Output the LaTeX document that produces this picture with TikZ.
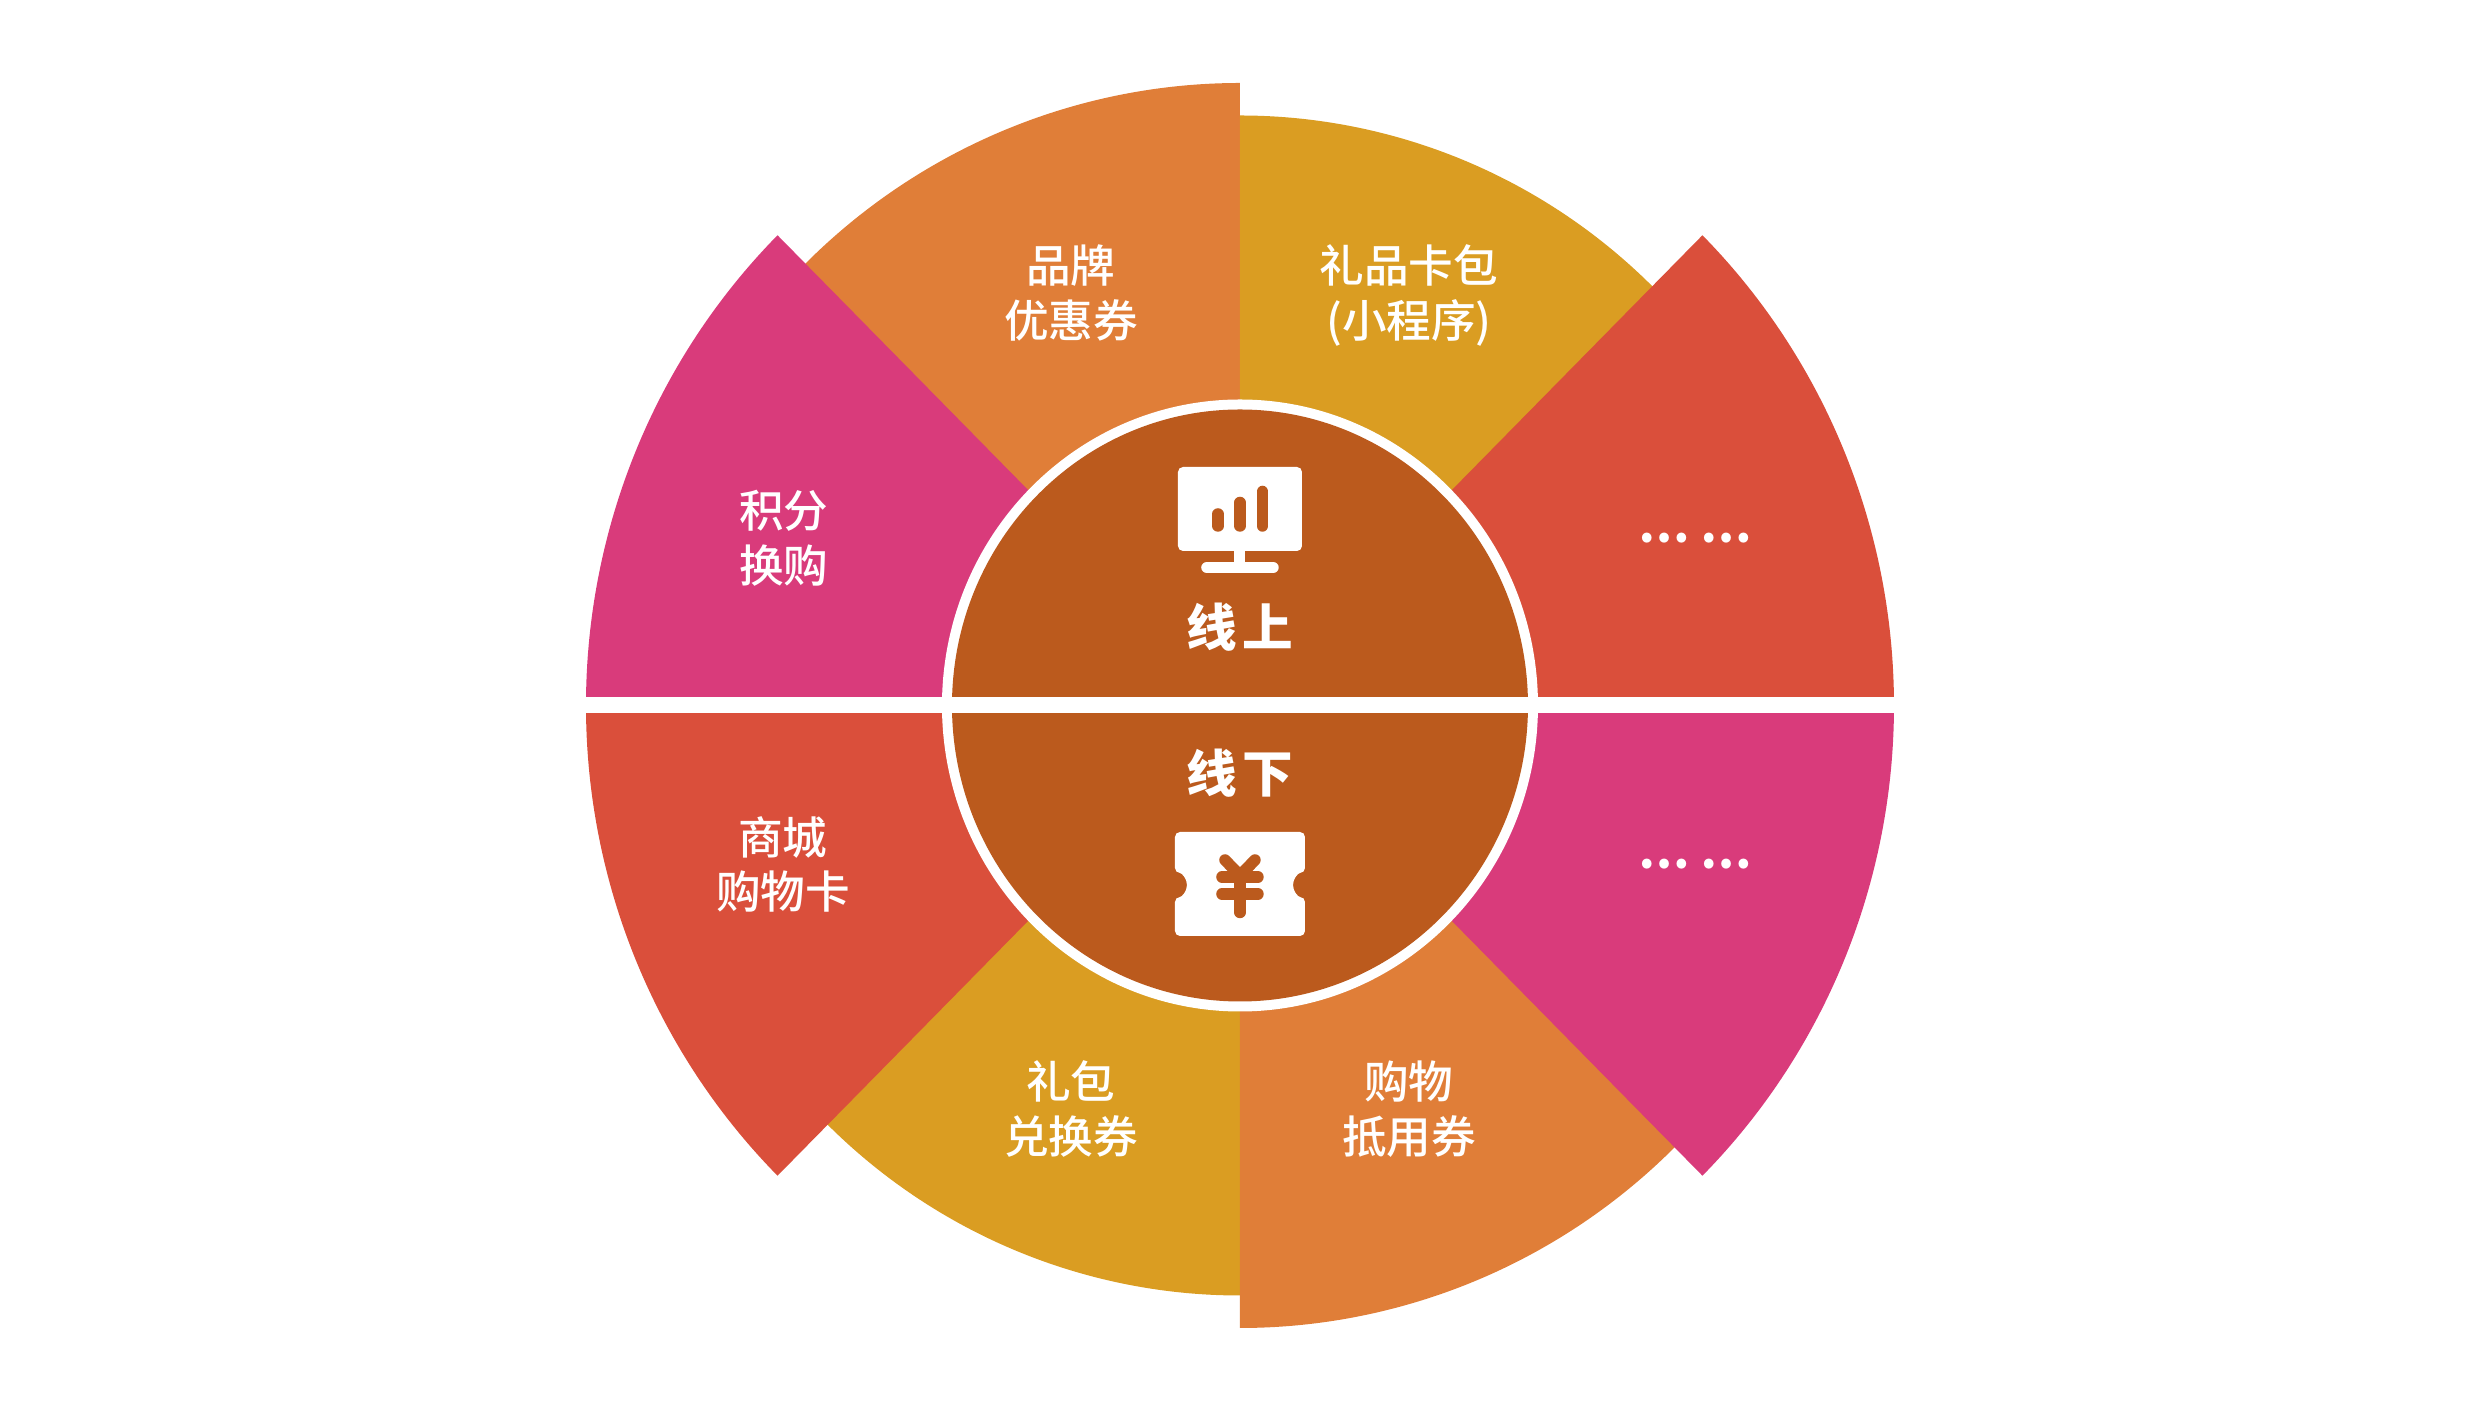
\documentclass[tikz,border=0pt]{standalone}
\usepackage{fontspec}
\usepackage{tikz}
\usetikzlibrary{positioning}
\setmainfont{Noto Sans CJK SC}
\newfontfamily\labelfont{Noto Sans CJK SC Medium}
\definecolor{myorange}{HTML}{E07E38}
\definecolor{mygold}{HTML}{DA9D22}
\definecolor{mypink}{HTML}{D93B7B}
\definecolor{myred}{HTML}{DA4F3B}
\definecolor{mybrown}{HTML}{BB5A1D}
\tikzset{
  seclabel/.style={text=white, align=center, inner sep=0pt, font=\labelfont\fontsize{12.7}{15.6}\selectfont},
  dotlabel/.style={text=white, inner sep=0pt, font=\fontsize{13}{16}\selectfont\bfseries},
  titlelabel/.style={text=white, align=center, inner sep=0pt, font=\fontsize{14.4}{17}\selectfont\bfseries},
  iconbar/.style={line width=1.15mm, line cap=round},
}

\begin{document}
\begin{tikzpicture}[node distance=3.38cm]
            \useasboundingbox (-12.40,-7.065) rectangle (12.41,7.055);

            % orange and gold first, the wider sectors lie over their edges
            \fill[myorange] (0,0) -- (0,6.225) arc[start angle=90, end angle=135, x radius=6.17, y radius=6.225] -- cycle;
            \fill[mygold] (0,0) -- (0,5.90) arc[start angle=90, end angle=45, x radius=5.86, y radius=5.90] -- cycle;
            \fill[mygold] (0,0) -- (0,-5.90) arc[start angle=270, end angle=225, x radius=5.86, y radius=5.90] -- cycle;
            \fill[myorange] (0,0) -- (0,-6.225) arc[start angle=270, end angle=315, x radius=6.17, y radius=6.225] -- cycle;
            % pink and red
            \fill[mypink] (0,0) -- (-6.54,0) arc[start angle=180, end angle=135, x radius=6.54, y radius=6.65] -- cycle;
            \fill[myred] (0,0) -- (6.54,0) arc[start angle=0, end angle=45, x radius=6.54, y radius=6.65] -- cycle;
            \fill[myred] (0,0) -- (-6.54,0) arc[start angle=180, end angle=225, x radius=6.54, y radius=6.65] -- cycle;
            \fill[mypink] (0,0) -- (6.54,0) arc[start angle=360, end angle=315, x radius=6.54, y radius=6.65] -- cycle;

            \fill[white] (0,0) ellipse [x radius=2.98, y radius=3.06];
            \fill[mybrown] (0,0) ellipse [x radius=2.88, y radius=2.96];
            \fill[white] (-6.60,-0.08) rectangle (6.60,0.08);

            % monitor icon
            \fill[white, rounded corners=0.5mm] (-0.62,1.545) rectangle (0.62,2.385);
            \fill[white] (-0.055,1.55) rectangle (0.055,1.38);
            \draw[white, iconbar] (-0.33,1.38) -- (0.33,1.38);
            \draw[mybrown, iconbar] (-0.22,1.795) -- (-0.22,1.915);
            \draw[mybrown, iconbar] (0,1.795) -- (0,2.03);
            \draw[mybrown, iconbar] (0.225,1.795) -- (0.225,2.14);

            % ticket icon
            \fill[white, rounded corners=0.5mm] (-0.65,-1.265) -- (0.65,-1.265) -- (0.65,-1.675)
                arc[start angle=90, end angle=270, radius=0.12] -- (0.65,-2.305) -- (-0.65,-2.305) -- (-0.65,-1.915)
                arc[start angle=-90, end angle=90, radius=0.12] -- cycle;
            \draw[mybrown, iconbar] (-0.15,-1.545) -- (0,-1.70) -- (0.15,-1.545);
            \draw[mybrown, iconbar] (-0.18,-1.715) -- (0.18,-1.715);
            \draw[mybrown, iconbar] (-0.18,-1.885) -- (0.18,-1.885);
            \draw[mybrown, iconbar] (0,-1.70) -- (0,-2.07);

            \node[seclabel] (1) at (-1.69,4.123) {品牌\\优惠券};
            \node[seclabel] (2) [right of=1, yshift=-0.024cm] {礼品卡包\\(小程序)};
            \node[seclabel] (3) at (-4.56,1.67) {积分\\换购};
            \node[dotlabel] (4) [right of=3, node distance=9.11cm] {… …};
            \node[seclabel] (5) at (-4.57,-1.59) {商城\\购物卡};
            \node[dotlabel] (6) [right of=5, node distance=9.12cm] {… …};
            \node[seclabel] (7) at (-1.69,-4.035) {礼包\\兑换券};
            \node[seclabel] (8) [right of=7] {购物\\抵用券};
            \node[titlelabel] (9) at (0,0.785) {线\hspace{0.6mm}上};
            \node[titlelabel] (10) at (0,-0.675) {线\hspace{0.6mm}下};
        \end{tikzpicture}
\end{document}
